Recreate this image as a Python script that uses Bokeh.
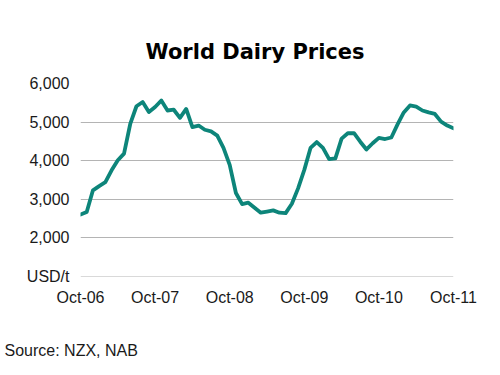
from bokeh.plotting import figure
from bokeh.models import FixedTicker, Range1d, Title
from bokeh.embed import file_html
from bokeh.resources import INLINE

# Monthly world dairy prices, USD/t, Oct-06 .. Oct-11
prices = [2600, 2670, 3230, 3340, 3440, 3750, 4010, 4180, 4950, 5410,
          5520, 5260, 5390, 5560, 5300, 5320, 5110, 5340, 4870, 4910,
          4800, 4760, 4650, 4330, 3890, 3160, 2870, 2910, 2780, 2650,
          2680, 2710, 2650, 2640, 2880, 3280, 3760, 4330, 4480, 4330,
          4040, 4060, 4570, 4710, 4710, 4490, 4290, 4450, 4590, 4560,
          4600, 4940, 5250, 5430, 5400, 5300, 5250, 5210, 5010, 4910,
          4840]
month_index = list(range(len(prices)))
x_tick_pos = [0, 12, 24, 36, 48, 60]
x_tick_labels = ["Oct-06", "Oct-07", "Oct-08", "Oct-09", "Oct-10", "Oct-11"]
y_ticks = [1000, 2000, 3000, 4000, 5000, 6000]
y_tick_labels = ["USD/t", "2,000", "3,000", "4,000", "5,000", "6,000"]

FONT = "Liberation Sans"

p = figure(width=500, height=375, output_backend="svg", toolbar_location=None,
           x_range=Range1d(0, 60), y_range=Range1d(995, 6000),
           min_border_left=80, min_border_right=47, min_border_top=83,
           min_border_bottom=99, title=None)

p.line(month_index, prices, line_color="#0d857a", line_width=3.8,
       line_join="round", line_cap="round")

p.outline_line_color = None
p.background_fill_color = "white"
p.border_fill_color = "white"

# Axes
p.xaxis.ticker = FixedTicker(ticks=x_tick_pos)
p.xaxis.major_label_overrides = {pos: lab for pos, lab in zip(x_tick_pos, x_tick_labels)}
p.yaxis.ticker = FixedTicker(ticks=y_ticks)
p.yaxis.major_label_overrides = {pos: lab for pos, lab in zip(y_ticks, y_tick_labels)}
for ax in (p.xaxis, p.yaxis):
    ax.axis_line_color = None
    ax.major_tick_line_color = None
    ax.minor_tick_line_color = None
    ax.major_tick_out = 0
    ax.major_tick_in = 0
    ax.major_label_text_font = FONT
    ax.major_label_text_font_size = "16px"
    ax.major_label_text_color = "#1a1a1a"
p.yaxis.major_label_standoff = 11
p.xaxis.major_label_standoff = 12

p.xgrid.grid_line_color = None
p.ygrid.grid_line_color = "#b4b4b4"
p.ygrid.grid_line_width = 1

title = Title(text="World Dairy Prices", align="left", offset=65,
              text_font="DejaVu Sans", text_font_style="bold",
              text_font_size="21px", text_color="black", standoff=39)
p.add_layout(title, "above")

source = Title(text="\nSource: NZX, NAB", align="left", offset=-76,
               text_font=FONT, text_font_style="normal",
               text_font_size="16px", text_color="#1a1a1a", standoff=29)
p.add_layout(source, "below")

open("out.html", "w").write(file_html(p, INLINE))
